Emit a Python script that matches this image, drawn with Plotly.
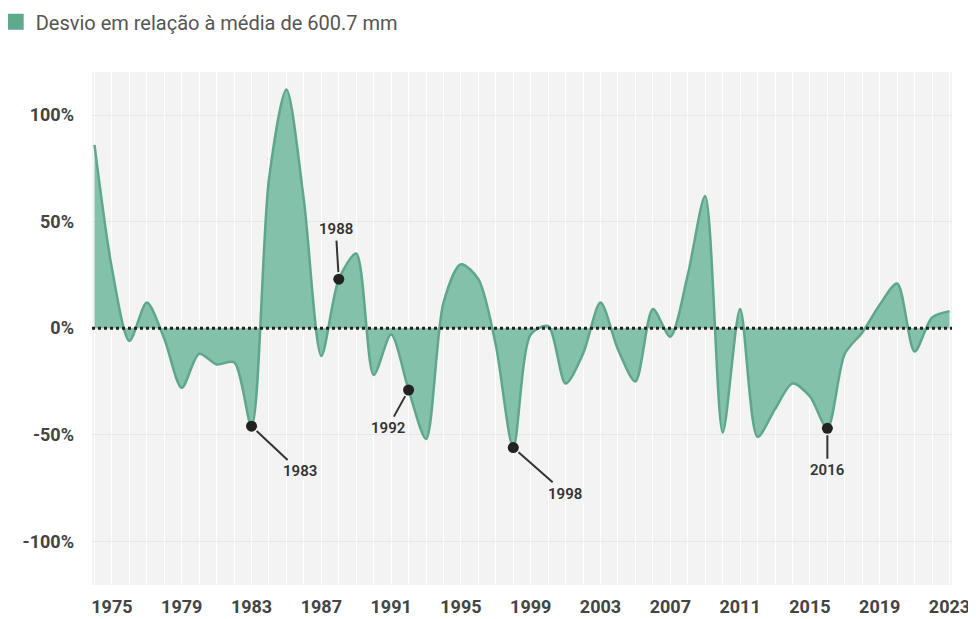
import plotly.graph_objects as go

years = list(range(1974, 2024))
desvio = [86, 28, -6, 12, -5, -28, -12, -17, -16, -46,
          70, 112, 60, -13, 23, 35, -22, -3, -29, -52,
          12, 30, 23, -8, -56, -3, 1, -26, -12, 12,
          -10, -25, 9, -4, 25, 62, -49, 9, -51, -38,
          -26, -32, -47, -12, -2, 11, 21, -11, 5, 8]

hl_years = [1983, 1988, 1992, 1998, 2016]
hl_offsets = {1983: (48, 45), 1988: (-3, -50), 1992: (-21, 38), 1998: (52, 46), 2016: (0, 42)}
tick_years = list(range(1975, 2024, 4))
tick_text = [str(y) for y in tick_years]
y_ticks = [-100, -50, 0, 50, 100]
y_text = ["-100%", "-50%", "0%", "50%", "100%"]
legend_label = "Desvio em relação à média de 600.7 mm"

GREEN_LINE = "#5fa78c"
GREEN_FILL = "rgba(110,183,156,0.85)"
DARK = "#222222"

fig = go.Figure()
fig.add_trace(go.Scatter(
    x=years, y=desvio, mode="lines",
    line=dict(color=GREEN_LINE, width=2.5, shape="spline", smoothing=0.8),
    fill="tozeroy", fillcolor=GREEN_FILL,
    name=legend_label, showlegend=False, hoverinfo="x+y",
))
# legend swatch
fig.add_trace(go.Scatter(
    x=[None], y=[None], mode="markers",
    marker=dict(symbol="square", size=17, color="#5fa98c"),
    name=legend_label, showlegend=True,
))
hl_vals = [desvio[years.index(y)] for y in hl_years]
fig.add_trace(go.Scatter(
    x=hl_years, y=hl_vals, mode="markers",
    marker=dict(color=DARK, size=11), showlegend=False, hoverinfo="skip",
))

for y, v in zip(hl_years, hl_vals):
    ax, ay = hl_offsets[y]
    fig.add_annotation(
        x=y, y=v, text=str(y), showarrow=True, arrowhead=0, arrowwidth=2,
        arrowcolor="#333333", ax=ax, ay=ay, standoff=7, startstandoff=1,
        font=dict(family="Roboto", size=15, color="#333333", weight=600),
    )

fig.add_shape(type="line", xref="paper", x0=0, x1=1, yref="y", y0=0, y1=0,
              line=dict(color=DARK, width=3, dash="dot"), layer="above")

fig.update_layout(
    width=968, height=611,
    margin=dict(l=84, r=24, t=64, b=34, autoexpand=False),
    paper_bgcolor="white", plot_bgcolor="#f3f3f3",
    font=dict(family="Roboto", color="#444444"),
    showlegend=True,
    legend=dict(x=-0.112, y=1.136, xanchor="left", yanchor="top",
                font=dict(family="Roboto", size=20, color="#555555"),
                itemwidth=30, bgcolor="rgba(0,0,0,0)"),
    xaxis=dict(
        range=[1973.857, 2023.143], tickmode="array", tickvals=tick_years, ticktext=tick_text,
        showgrid=True, gridcolor="#ffffff", gridwidth=1, zeroline=False, showline=False,
        tickfont=dict(family="Roboto", size=18, color="#444444", weight="bold"),
        ticks="", ticklabelstandoff=9,
        minor=dict(dtick=1, tick0=1974, showgrid=True, gridcolor="#ffffff", gridwidth=1),
    ),
    yaxis=dict(
        range=[-120.5, 120.2], tickmode="array", tickvals=y_ticks, ticktext=y_text,
        showgrid=True, gridcolor="#e8e8e8", gridwidth=1, zeroline=False, showline=False,
        tickfont=dict(family="Roboto", size=18, color="#444444", weight="bold"),
        ticks="", ticklabelstandoff=17,
    ),
)

fig.write_html("out.html")
